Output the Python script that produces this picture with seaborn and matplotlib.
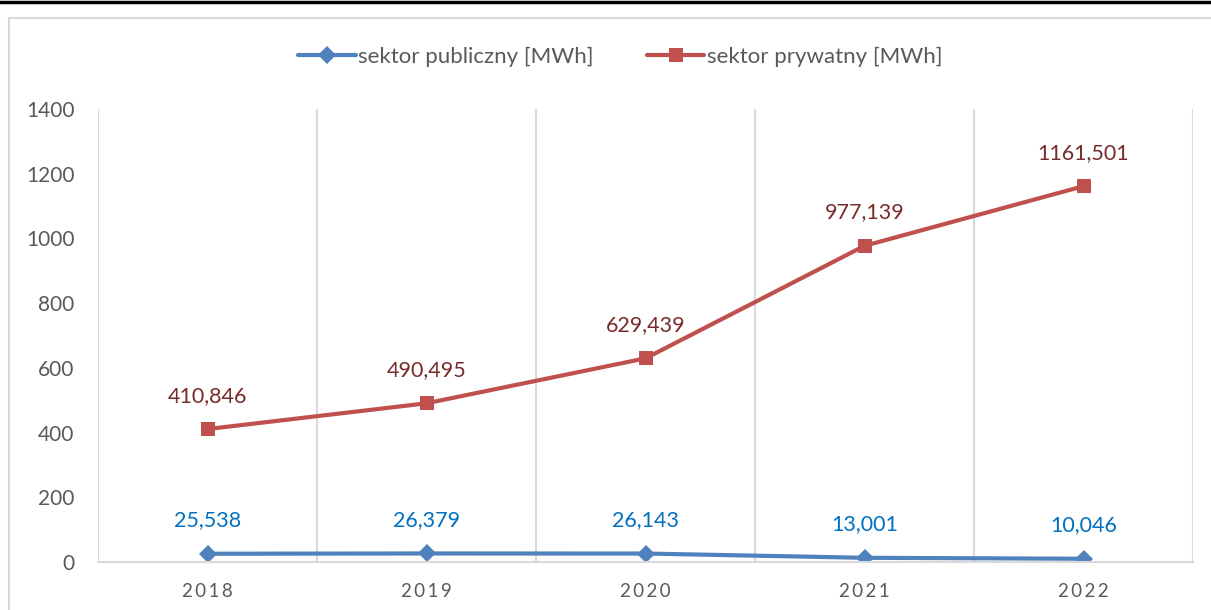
import pandas as pd
import seaborn as sns
import matplotlib.pyplot as plt
from matplotlib.patches import Rectangle
from matplotlib.lines import Line2D

# data (MWh, thousands shown with comma as decimal sign)
years = ['2018', '2019', '2020', '2021', '2022']
public = [25.538, 26.379, 26.143, 13.001, 10.046]
private = [410.846, 490.495, 629.439, 977.139, 1161.501]
series_names = ['sektor publiczny [MWh]', 'sektor prywatny [MWh]']

df = pd.DataFrame({
    'pos': list(range(len(years))) * 2,
    'value': public + private,
    'series': [series_names[0]] * len(years) + [series_names[1]] * len(years),
})

sns.set_style('white')
plt.rcParams['font.family'] = ['Lato', 'DejaVu Sans']

line_colors = {series_names[0]: '#4F81BD', series_names[1]: '#C0504D'}
label_colors = {series_names[0]: '#0070C0', series_names[1]: '#772C2A'}
markers = {series_names[0]: 'D', series_names[1]: 's'}
msizes = {series_names[0]: 9, series_names[1]: 10}

fig = plt.figure(figsize=(12.11, 6.10), dpi=100)
ax = fig.add_axes([98 / 1211, 1 - 562 / 610, (1193 - 98) / 1211, (562 - 109) / 610])

for name in series_names:
    sub = df[df['series'] == name]
    sns.lineplot(data=sub, x='pos', y='value', ax=ax, color=line_colors[name],
                 linewidth=3, marker=markers[name], markersize=msizes[name],
                 markeredgewidth=0, label=name, legend=False)
    for x, v in zip(sub['pos'], sub['value']):
        ax.annotate(f'{v:.3f}'.replace('.', ','), (x, v), xytext=(0, 24),
                    textcoords='offset points', ha='center', va='center',
                    fontsize=15.5, color=label_colors[name])

ax.set_xlim(-0.5, len(years) - 0.5)
ax.set_ylim(0, 1400)
ax.set_yticks(range(0, 1401, 200))
ax.set_yticklabels([str(t) for t in range(0, 1401, 200)], fontsize=15, color='#595959')
ax.set_xticks(range(len(years)))
ax.set_xticklabels(['\u2009'.join(y) for y in years], fontsize=13.5, color='#595959')
ax.tick_params(axis='y', length=0, pad=17)
ax.tick_params(axis='x', length=0, pad=15)
ax.set_xlabel('')
ax.set_ylabel('')

for s in ['top', 'right', 'left']:
    ax.spines[s].set_visible(False)
ax.spines['bottom'].set_color('#D9D9D9')
ax.spines['bottom'].set_linewidth(1.5)
for b in range(len(years) + 1):
    ax.axvline(b - 0.5, color='#D9D9D9', linewidth=1.5, zorder=0)

# chart border and top rule
fig.patches.append(Rectangle((9 / 1211, -0.1), 1.1, 1 - 18 / 610 + 0.1,
                             transform=fig.transFigure, fill=False,
                             edgecolor='#D9D9D9', linewidth=1.5))
fig.add_artist(Line2D([0, 1], [1 - 2 / 610, 1 - 2 / 610], color='black', linewidth=2.5))

handles = [Line2D([], [], color=line_colors[n], linewidth=3, marker=markers[n],
                  markersize=msizes[n], markeredgewidth=0) for n in series_names]
fig.legend(handles, series_names, loc='center', bbox_to_anchor=(620 / 1211, 1 - 57 / 610),
           ncol=2, frameon=False, fontsize=16, handlelength=2.6, columnspacing=2.4,
           handletextpad=0.1, labelcolor='#595959')

plt.savefig('out.png', dpi=100)
